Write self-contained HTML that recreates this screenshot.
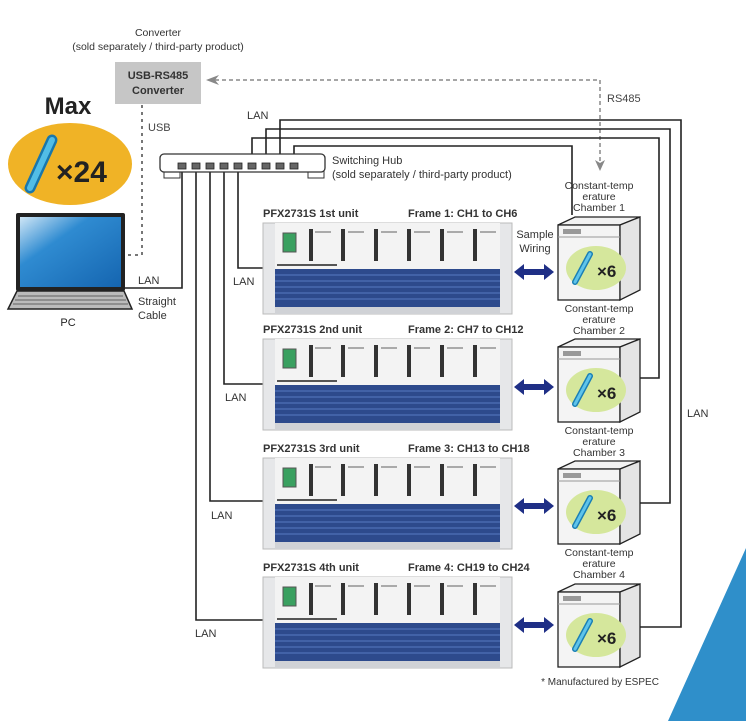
<!DOCTYPE html>
<html><head><meta charset="utf-8"><style>
html,body{margin:0;padding:0;background:#fff;width:746px;height:721px;overflow:hidden}
svg{display:block}
text{font-family:"Liberation Sans",Arial,sans-serif}
</style></head><body>
<svg width="746" height="721" viewBox="0 0 746 721" xmlns="http://www.w3.org/2000/svg">
<defs>
<g id="unit">
  <rect x="0" y="0" width="249" height="91" fill="#e6e7e9" stroke="#bbb" stroke-width="1"/>
  <rect x="12" y="0" width="225" height="46" fill="#f3f3f3"/>
  <rect x="12" y="46" width="225" height="38" fill="#2d4a8c"/>
  <g stroke="#4a6bb0" stroke-width="1.5">
    <line x1="12" y1="52" x2="237" y2="52"/><line x1="12" y1="58" x2="237" y2="58"/>
    <line x1="12" y1="64" x2="237" y2="64"/><line x1="12" y1="70" x2="237" y2="70"/>
    <line x1="12" y1="76" x2="237" y2="76"/>
  </g>
  <rect x="12" y="84" width="225" height="7" fill="#d0d2d6"/>
  <rect x="20" y="10" width="13" height="19" fill="#3aa060" stroke="#555"/>
  <g fill="#333">
    <rect x="46" y="6" width="4" height="32"/><rect x="78" y="6" width="4" height="32"/>
    <rect x="111" y="6" width="4" height="32"/><rect x="144" y="6" width="4" height="32"/>
    <rect x="177" y="6" width="4" height="32"/><rect x="210" y="6" width="4" height="32"/>
  </g>
  <g fill="#aaa">
    <rect x="52" y="8" width="16" height="2"/><rect x="85" y="8" width="16" height="2"/>
    <rect x="118" y="8" width="16" height="2"/><rect x="151" y="8" width="16" height="2"/>
    <rect x="184" y="8" width="16" height="2"/><rect x="217" y="8" width="16" height="2"/>
  </g>
  <rect x="14" y="41" width="60" height="2" fill="#555"/>
</g>
<g id="arrow">
  <polygon points="0,0 10,-8 10,-3 30,-3 30,-8 40,0 30,8 30,3 10,3 10,8" fill="#1f2f86"/>
</g>
<g id="chamber">
  <polygon points="558,8 575,0 640,0 620,8" fill="#f2f2f2" stroke="#222" stroke-width="1.3"/>
  <rect x="558" y="8" width="62" height="75" fill="#f4f4f4" stroke="#222" stroke-width="1.3"/>
  <polygon points="620,8 640,0 640,73 620,83" fill="#e4e4e4" stroke="#222" stroke-width="1.3"/>
  <rect x="563" y="12" width="18" height="5" fill="#999"/>
  <line x1="558" y1="20" x2="620" y2="20" stroke="#999"/>
  <ellipse cx="596" cy="51" rx="30" ry="22" fill="#d5e79c"/>
  <line x1="575" y1="65" x2="590" y2="37" stroke="#1a7fb5" stroke-width="6" stroke-linecap="round"/>
  <line x1="575" y1="65" x2="590" y2="37" stroke="#5fc4ea" stroke-width="3" stroke-linecap="round"/>
  <text x="597" y="60" font-size="17" font-weight="bold" fill="#222">×6</text>
</g>
</defs>

<polygon points="746,548 746,721 668,721" fill="#2f8fca"/>

<text x="158" y="36" font-size="10.5" text-anchor="middle" fill="#333">Converter</text>
<text x="158" y="50" font-size="10.5" text-anchor="middle" fill="#333">(sold separately / third-party product)</text>
<rect x="115" y="62" width="86" height="42" fill="#c6c6c6"/>
<text x="158" y="79" font-size="11" font-weight="bold" text-anchor="middle" fill="#333">USB-RS485</text>
<text x="158" y="94" font-size="11" font-weight="bold" text-anchor="middle" fill="#333">Converter</text>

<line x1="215" y1="80" x2="600" y2="80" stroke="#888" stroke-width="1.5" stroke-dasharray="4,3"/>
<polygon points="206,80 219,75 215,80 219,85" fill="#888"/>
<line x1="600" y1="80" x2="600" y2="162" stroke="#888" stroke-width="1.5" stroke-dasharray="4,3"/>
<polygon points="600,171 595,160 600,163 605,160" fill="#888"/>
<text x="607" y="102" font-size="11" fill="#444">RS485</text>

<polyline points="142,105 142,255 127,255" fill="none" stroke="#777" stroke-width="2" stroke-dasharray="3,4"/>
<text x="148" y="131" font-size="11" fill="#444">USB</text>

<text x="68" y="114" font-size="24" font-weight="bold" text-anchor="middle" fill="#222">Max</text>
<ellipse cx="70" cy="164" rx="62" ry="41" fill="#f0b326"/>
<line x1="30" y1="188" x2="52" y2="140" stroke="#1877ad" stroke-width="11" stroke-linecap="round"/>
<line x1="30" y1="188" x2="52" y2="140" stroke="#52bde6" stroke-width="6" stroke-linecap="round"/>
<text x="56" y="182" font-size="30" font-weight="bold" fill="#222">×24</text>

<rect x="16" y="213" width="109" height="78" rx="2" fill="#222"/>
<defs><linearGradient id="scr" x1="0" y1="0" x2="1" y2="1"><stop offset="0" stop-color="#cfe6f6"/><stop offset="0.35" stop-color="#2f8bd1"/><stop offset="1" stop-color="#1565b0"/></linearGradient></defs>
<rect x="20" y="217" width="101" height="70" fill="url(#scr)"/>
<polygon points="17,291 124,291 132,309 8,309" fill="#bbb" stroke="#222" stroke-width="1.5"/>
<g stroke="#444" stroke-width="0.8">
<line x1="18" y1="296" x2="123" y2="296"/><line x1="15" y1="300" x2="126" y2="300"/><line x1="13" y1="304" x2="128" y2="304"/>
</g>
<text x="68" y="326" font-size="11" text-anchor="middle" fill="#222">PC</text>

<polyline points="125,288 182,288 182,170" fill="none" stroke="#222" stroke-width="1.6"/>
<text x="138" y="284" font-size="11" fill="#333">LAN</text>
<text x="138" y="305" font-size="11" fill="#333">Straight</text>
<text x="138" y="319" font-size="11" fill="#333">Cable</text>

<g fill="none" stroke="#222" stroke-width="1.6">
<polyline points="238,170 238,268 263,268"/>
<polyline points="224,170 224,384 263,384"/>
<polyline points="210,170 210,501 263,501"/>
<polyline points="196,170 196,620 263,620"/>
<polyline points="252,162 252,138 659,138 659,378 640,378"/>
<polyline points="266,162 266,129 670,129 670,503 640,503"/>
<polyline points="280,162 280,120 681,120 681,627 640,627"/>
<polyline points="294,162 294,146 572,146 572,215"/>
</g>
<text x="233" y="285" font-size="11" fill="#333">LAN</text>
<text x="225" y="401" font-size="11" fill="#333">LAN</text>
<text x="211" y="519" font-size="11" fill="#333">LAN</text>
<text x="195" y="637" font-size="11" fill="#333">LAN</text>
<text x="247" y="119" font-size="11" fill="#333">LAN</text>
<text x="687" y="417" font-size="11" fill="#333">LAN</text>

<rect x="164" y="171" width="16" height="7" fill="#fff" stroke="#333"/>
<rect x="308" y="171" width="16" height="7" fill="#fff" stroke="#333"/>
<rect x="160" y="154" width="165" height="18" rx="4" fill="#fff" stroke="#333" stroke-width="1.3"/>
<g fill="#666" stroke="#222" stroke-width="0.8">
<rect x="178" y="163" width="8" height="6"/><rect x="192" y="163" width="8" height="6"/>
<rect x="206" y="163" width="8" height="6"/><rect x="220" y="163" width="8" height="6"/>
<rect x="234" y="163" width="8" height="6"/><rect x="248" y="163" width="8" height="6"/>
<rect x="262" y="163" width="8" height="6"/><rect x="276" y="163" width="8" height="6"/>
<rect x="290" y="163" width="8" height="6"/>
</g>
<text x="332" y="164" font-size="11" fill="#333">Switching Hub</text>
<text x="332" y="178" font-size="11" fill="#333">(sold separately / third-party product)</text>

<g font-size="11" font-weight="bold" fill="#333">
<text x="263" y="217">PFX2731S 1st unit</text><text x="408" y="217">Frame 1: CH1 to CH6</text>
<text x="263" y="333">PFX2731S 2nd unit</text><text x="408" y="333">Frame 2: CH7 to CH12</text>
<text x="263" y="452">PFX2731S 3rd unit</text><text x="408" y="452">Frame 3: CH13 to CH18</text>
<text x="263" y="571">PFX2731S 4th unit</text><text x="408" y="571">Frame 4: CH19 to CH24</text>
</g>
<use href="#unit" x="263" y="223"/>
<use href="#unit" x="263" y="339"/>
<use href="#unit" x="263" y="458"/>
<use href="#unit" x="263" y="577"/>

<text x="535" y="238" font-size="11" text-anchor="middle" fill="#333">Sample</text>
<text x="535" y="252" font-size="11" text-anchor="middle" fill="#333">Wiring</text>
<use href="#arrow" x="514" y="272"/>
<use href="#arrow" x="514" y="387"/>
<use href="#arrow" x="514" y="506"/>
<use href="#arrow" x="514" y="625"/>

<g font-size="10.5" text-anchor="middle" fill="#333">
<text x="599" y="189">Constant-temp</text><text x="599" y="200">erature</text><text x="599" y="211">Chamber 1</text>
<text x="599" y="312">Constant-temp</text><text x="599" y="323">erature</text><text x="599" y="334">Chamber 2</text>
<text x="599" y="434">Constant-temp</text><text x="599" y="445">erature</text><text x="599" y="456">Chamber 3</text>
<text x="599" y="556">Constant-temp</text><text x="599" y="567">erature</text><text x="599" y="578">Chamber 4</text>
</g>
<use href="#chamber" x="0" y="217"/>
<use href="#chamber" x="0" y="339"/>
<use href="#chamber" x="0" y="461"/>
<use href="#chamber" x="0" y="584"/>
<text x="600" y="685" font-size="10" text-anchor="middle" fill="#333">* Manufactured by ESPEC</text>
</svg>
</body></html>
